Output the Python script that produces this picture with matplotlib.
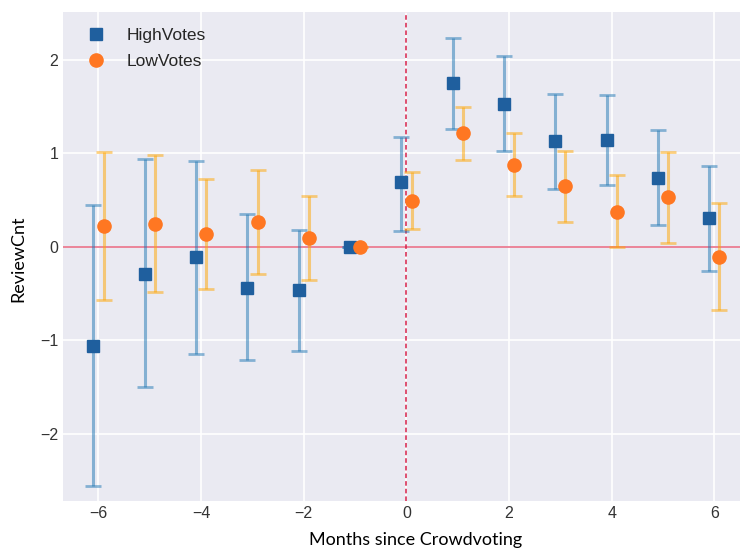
import matplotlib
matplotlib.use("Agg")
import matplotlib.pyplot as plt
import numpy as np

# months relative to the crowdvoting event
months = [-6, -5, -4, -3, -2, -1, 0, 1, 2, 3, 4, 5, 6]

# HighVotes: estimate and 95% CI bounds
high_est = [-1.06, -0.29, -0.11, -0.44, -0.46, 0.0, 0.69, 1.75, 1.53, 1.13, 1.14, 0.74, 0.31]
high_lo = [-2.56, -1.50, -1.14, -1.21, -1.11, 0.0, 0.17, 1.26, 1.03, 0.62, 0.66, 0.23, -0.26]
high_hi = [0.45, 0.94, 0.92, 0.35, 0.18, 0.0, 1.18, 2.24, 2.04, 1.64, 1.63, 1.25, 0.87]

# LowVotes: estimate and 95% CI bounds
low_est = [0.22, 0.25, 0.14, 0.27, 0.10, 0.0, 0.49, 1.22, 0.88, 0.65, 0.37, 0.53, -0.11]
low_lo = [-0.57, -0.48, -0.45, -0.29, -0.35, 0.0, 0.19, 0.93, 0.54, 0.27, 0.0, 0.04, -0.67]
low_hi = [1.02, 0.98, 0.73, 0.82, 0.54, 0.0, 0.80, 1.50, 1.22, 1.03, 0.77, 1.02, 0.47]

plt.style.use("seaborn-v0_8-darkgrid")
plt.rcParams["font.family"] = ["Liberation Sans", "DejaVu Sans"]

BLUE = "#1f5f9e"
ORANGE = "#ff7722"

fig = plt.figure(figsize=(7.4, 5.48), dpi=100)
ax = fig.add_axes([63 / 740, 1 - 501 / 548, 1 - 63 / 740, (501 - 12) / 548])

x = np.array(months, dtype=float)
he = np.array(high_est)
le = np.array(low_est)
h_err = [he - np.array(high_lo), np.array(high_hi) - he]
l_err = [le - np.array(low_lo), np.array(low_hi) - le]

ax.axhline(0, color="crimson", alpha=0.6, lw=1.2, zorder=1)
ax.axvline(0, color="#d6204a", ls=(0, (3, 2)), lw=1.1, zorder=1)

ax.errorbar(x - 0.1, he, yerr=h_err, fmt="none", ecolor="#1f77b4", alpha=0.5,
            elinewidth=2.2, capsize=5.5, capthick=2.0, zorder=2)
ax.errorbar(x + 0.1, le, yerr=l_err, fmt="none", ecolor="orange", alpha=0.5,
            elinewidth=2.2, capsize=5.5, capthick=2.0, zorder=2)
ax.plot(x - 0.1, he, "s", color=BLUE, ms=9, label="HighVotes", zorder=3)
ax.plot(x + 0.1, le, "o", color=ORANGE, ms=9.5, label="LowVotes", zorder=3)

ax.set_xlim(-6.69, 6.5)
ax.set_ylim(-2.717, 2.513)
ax.set_xticks([-6, -4, -2, 0, 2, 4, 6])
ax.set_yticks([-2, -1, 0, 1, 2])
ax.tick_params(labelsize=11.5, colors="#333333", length=0)
ax.grid(True, color="white", lw=1.2)

ax.legend(loc="upper left", bbox_to_anchor=(0.012, 1.0), frameon=False,
          fontsize=12.5, handletextpad=1.2, borderaxespad=0.5,
          labelspacing=0.62, handlelength=1.1, labelcolor="#262626")

fig.text(416 / 740, 1 - 540 / 548, "Months since Crowdvoting", ha="center",
         va="center", fontsize=13, family="Lato", color="black")
fig.text(18 / 740, 1 - 259 / 548, "ReviewCnt", ha="center", va="center",
         rotation=90, fontsize=13, family="Lato", color="black")

fig.savefig("out.png", dpi=100)
